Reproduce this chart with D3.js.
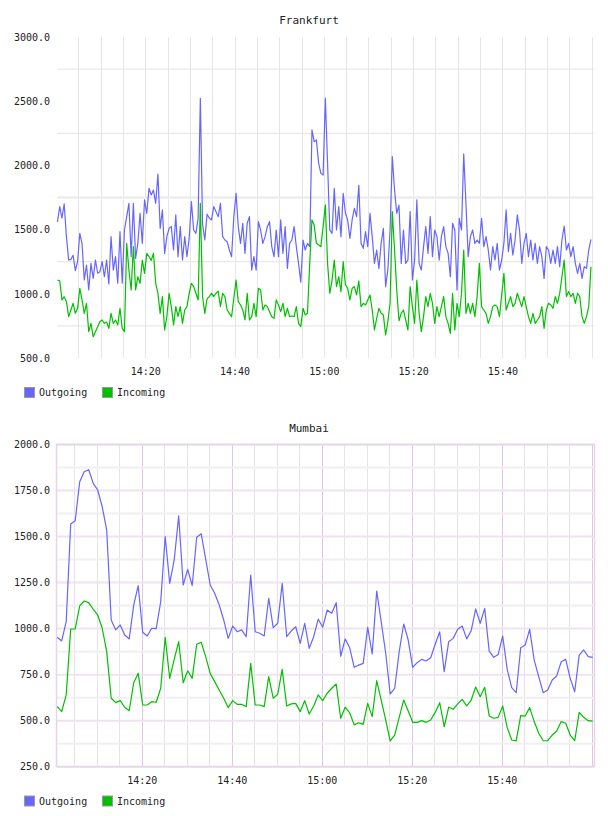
<!DOCTYPE html>
<html>
<head>
<meta charset="utf-8">
<script src="https://cdn.jsdelivr.net/npm/d3@7"></script>
<style>
  body { margin: 0; background: #fff; }
  text { font-family: "DejaVu Sans Mono", monospace; font-size: 10px; fill: #222; }
  .title { font-size: 11px; }
</style>
</head>
<body>
<script>
// Frankfurt: one sample every 30 s starting 14:00:20
const frankfurtStart = "14:00:20";
const frankfurtStep = 30;
const frankfurtOutgoing = [
  1560,1680,1590,1700,1445,1263,1268,1300,1180,1250,
  1470,1390,1108,1224,1030,1237,1120,1263,1160,1172,
  1250,1133,1263,1077,1445,1185,1289,1082,1484,1082,
  1497,1601,1705,1289,1705,1276,1393,1627,1393,1731,
  1627,1821,1770,1808,1705,1933,1510,1653,1315,1445,
  1510,1523,1341,1614,1289,1523,1263,1445,1289,1432,
  1718,1497,1471,1588,2522,1540,1420,1620,1590,1575,
  1679,1640,1601,1705,1445,1419,1406,1341,1289,1601,
  1782,1523,1393,1549,1315,1549,1601,1185,1289,1185,
  1562,1497,1393,1445,1523,1562,1367,1289,1497,1289,
  1575,1315,1523,1198,1393,1419,1523,1367,1237,1090,
  1419,1341,1393,1367,2276,2185,2198,2016,1938,1925,
  2522,2016,1497,1471,1821,1497,1679,1445,1782,1627,
  1575,1432,1575,1666,1601,1845,1393,1354,1484,1367,
  1627,1445,1237,1341,1198,1393,1510,1056,1185,1497,
  2068,1808,1627,1690,1237,1497,1237,1263,1640,1108,
  1263,1731,1237,1185,1367,1523,1315,1601,1289,1497,
  1445,1263,1445,1523,1367,1315,1133,1549,1497,1030,
  1588,1497,2089,1700,1289,1445,1497,1393,1419,1393,
  1588,1367,1445,1341,1185,1367,1263,1393,1185,1263,
  1393,1653,1328,1471,1302,1419,1614,1497,1237,1393,
  1471,1289,1419,1263,1393,1237,1367,1289,1120,1367,
  1341,1237,1341,1237,1367,1211,1419,1528,1341,1393,
  1289,1367,1237,1159,1237,1120,1211,1198,1341,1424
];
const frankfurtIncoming = [
  1107,1102,952,978,939,822,874,926,848,887,
  1043,952,848,926,705,770,666,705,744,783,
  796,770,780,731,848,770,796,757,887,731,
  705,1393,1185,1030,1367,1030,1133,1082,1263,1159,
  1315,1290,1260,1315,1082,1004,848,978,718,822,
  1004,900,757,900,822,900,770,874,900,1004,
  1082,1056,1004,952,1705,978,848,960,978,1004,
  978,1004,1020,900,1004,978,874,848,822,965,
  1107,939,913,874,796,1004,796,822,926,822,
  1043,1030,874,913,900,861,822,809,952,913,
  861,926,822,887,822,827,822,900,770,744,
  887,835,848,1237,1575,1536,1393,1380,1367,1523,
  1692,1237,1004,1107,1263,1056,1133,1017,1250,1069,
  1043,952,1043,1056,991,1100,900,926,913,952,
  991,874,718,809,887,848,835,679,783,926,
  1640,1341,1030,790,848,874,796,718,1056,900,
  770,1107,848,705,822,978,900,1004,926,770,
  900,822,900,978,822,770,692,1004,718,926,
  822,1004,1341,848,926,848,926,822,978,1237,
  900,874,848,770,822,900,913,900,822,991,
  1159,874,926,978,900,926,1004,952,900,978,
  900,822,770,848,770,796,822,900,731,874,
  926,913,887,978,926,1004,1133,1263,978,1017,
  978,1004,926,1004,978,822,770,822,900,1211
];

// Mumbai: one sample per minute starting 14:01:12
const mumbaiStart = "14:01:12";
const mumbaiStep = 60;
const mumbaiOutgoing = [
  953,933,1038,1568,1586,1798,1852,1863,1789,1753,
  1662,1536,1047,993,1020,965,944,1128,1233,980,
  960,1002,1000,1146,1500,1246,1373,1612,1237,1322,
  1234,1496,1515,1377,1237,1192,1128,1047,947,1014,
  983,993,956,1291,983,975,960,1165,1005,1029,
  1246,956,987,1010,920,1029,893,956,1052,1007,
  1101,1083,1141,850,944,896,790,802,811,1007,
  862,1204,1038,866,645,676,875,1025,938,790,
  815,833,824,842,915,983,766,929,947,996,
  1014,944,989,1107,1029,1110,878,844,860,960,
  779,679,652,896,911,996,829,739,652,667,
  721,743,820,833,730,657,856,884,848,844
];
const mumbaiIncoming = [
  576,549,640,998,998,1123,1150,1141,1105,1074,
  1002,875,622,598,609,573,554,706,757,585,
  585,603,600,676,953,730,833,929,706,771,
  730,915,926,848,757,712,667,622,571,609,
  589,589,576,811,585,585,576,739,622,643,
  779,580,591,594,549,609,536,580,640,609,
  649,676,699,513,573,543,477,489,480,594,
  522,717,612,504,390,422,518,612,553,491,
  491,500,491,504,545,598,467,573,562,591,
  616,580,612,683,630,681,525,513,518,580,
  462,395,390,527,525,571,495,432,391,391,
  422,444,495,486,422,391,545,518,500,498
];

const seriesNames = ["Outgoing", "Incoming"];
const seriesColors = ["#6666ff", "#00c000"];
const xTickLabels = ["14:20", "14:40", "15:00", "15:20", "15:40"];
const frankfurtYTicks = [500, 1000, 1500, 2000, 2500, 3000];
const mumbaiYTicks = [250, 500, 750, 1000, 1250, 1500, 1750, 2000];

const W = 608, H = 816;
const parseT = d3.timeParse("%H:%M:%S");
const fmtT = d3.timeFormat("%H:%M");

const svg = d3.select("body").append("svg")
  .attr("width", W)
  .attr("height", H);

function toPoints(values, start, step) {
  const t0 = parseT(start);
  return values.map((v, i) => ({ t: new Date(t0.getTime() + i * step * 1000), v: v }));
}

function drawPanel(cfg) {
  const g = svg.append("g");
  const left = 57, right = 594;

  const x = d3.scaleTime()
    .domain([parseT("14:00:00"), parseT("16:00:00")])
    .range(cfg.xRange);
  const y = d3.scaleLinear()
    .domain(cfg.yDomain)
    .range([cfg.bottom, cfg.top]);

  // vertical grid, every 5 minutes
  const minutes = x.ticks(d3.timeMinute.every(5))
    .filter(d => x(d) > left + 1 && x(d) < right - 1);
  g.selectAll(".vgrid")
    .data(minutes)
    .enter()
    .append("line")
    .attr("x1", d => Math.round(x(d)) + 0.5)
    .attr("x2", d => Math.round(x(d)) + 0.5)
    .attr("y1", cfg.top)
    .attr("y2", cfg.bottom)
    .attr("stroke", d => (cfg.pink && d.getMinutes() % 20 == 0) ? "#dcc6e0" : cfg.vColor)
    .attr("stroke-width", 1);

  // horizontal grid
  g.selectAll(".hgrid")
    .data(cfg.hLines)
    .enter()
    .append("line")
    .attr("x1", left)
    .attr("x2", right)
    .attr("y1", d => y(d.v))
    .attr("y2", d => y(d.v))
    .attr("stroke", d => d.c)
    .attr("stroke-width", d => d.w);

  if (cfg.pink) {
    g.append("rect")
      .attr("x", left - 0.5)
      .attr("y", cfg.top)
      .attr("width", right - left + 1)
      .attr("height", cfg.bottom - cfg.top)
      .attr("fill", "none")
      .attr("stroke", "#e8d4ea")
      .attr("stroke-width", 1.5);
  }

  // lines
  const line = d3.line()
    .x(d => x(d.t))
    .y(d => y(d.v));
  cfg.series.forEach((s, i) => {
    g.append("path")
      .datum(s)
      .attr("d", line)
      .attr("fill", "none")
      .attr("stroke", seriesColors[i])
      .attr("stroke-width", 1.2)
      .attr("stroke-linejoin", "round");
  });

  // y axis labels
  const yAxis = d3.axisLeft(y)
    .tickValues(cfg.yTicks)
    .tickFormat(d3.format(".1f"))
    .tickSize(0)
    .tickPadding(7);
  const yG = g.append("g")
    .attr("transform", `translate(${left},${cfg.yLabelShift})`)
    .call(yAxis);
  yG.select(".domain").remove();
  yG.attr("font-family", null).attr("font-size", null);

  // x axis labels
  const xAxis = d3.axisBottom(x)
    .tickValues(xTickLabels.map(s => parseT(s + ":00")))
    .tickFormat(fmtT)
    .tickSize(0)
    .tickPadding(10);
  const xG = g.append("g")
    .attr("transform", `translate(0,${cfg.bottom})`)
    .call(xAxis);
  xG.select(".domain").remove();
  xG.attr("font-family", null).attr("font-size", null);

  // title
  g.append("text")
    .attr("class", "title")
    .attr("x", 309)
    .attr("y", cfg.top - 13)
    .attr("text-anchor", "middle")
    .text(cfg.title);

  // legend
  const lx = [24, 102];
  seriesNames.forEach((name, i) => {
    g.append("rect")
      .attr("x", lx[i] + 0.5)
      .attr("y", cfg.legendY + 0.5)
      .attr("width", 10)
      .attr("height", 10)
      .attr("fill", seriesColors[i])
      .attr("stroke", "#999")
      .attr("stroke-width", 1);
    g.append("text")
      .attr("x", lx[i] + 15)
      .attr("y", cfg.legendY + 9)
      .text(name);
  });
}

// Frankfurt panel
drawPanel({
  title: "Frankfurt",
  top: 37, bottom: 358,
  xRange: [56, 591.7],
  yDomain: [500, 3000],
  yTicks: frankfurtYTicks,
  yLabelShift: 0,
  vColor: "#e6e6e6",
  pink: false,
  hLines: [750, 1250, 1750, 2250, 2750].map(v => ({
    v: v,
    c: v == 1750 ? "#ececec" : "#e4e4e4",
    w: v == 1750 ? 2.5 : 1
  })),
  legendY: 387,
  series: [
    toPoints(frankfurtOutgoing, frankfurtStart, frankfurtStep),
    toPoints(frankfurtIncoming, frankfurtStart, frankfurtStep)
  ]
});

// Mumbai panel
const mumbaiMinor = d3.range(375, 2000, 250);
drawPanel({
  title: "Mumbai",
  top: 444.5, bottom: 766.7,
  xRange: [51.8, 591.8],
  yDomain: [250, 2000],
  yTicks: mumbaiYTicks,
  yLabelShift: 0,
  vColor: "#e6e2e8",
  pink: true,
  hLines: mumbaiMinor.map(v => ({ v: v, c: "#f0f0f0", w: 2 }))
    .concat(mumbaiYTicks.map(v => ({ v: v, c: "#f0e2f0", w: 2 }))),
  legendY: 795.5,
  series: [
    toPoints(mumbaiOutgoing, mumbaiStart, mumbaiStep),
    toPoints(mumbaiIncoming, mumbaiStart, mumbaiStep)
  ]
});
</script>
</body>
</html>
